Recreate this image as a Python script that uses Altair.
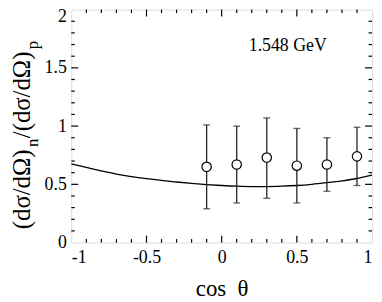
import altair as alt
import pandas as pd

# measured points
cos_theta = [-0.1, 0.1, 0.3, 0.5, 0.7, 0.9]
ratio = [0.65, 0.67, 0.73, 0.66, 0.67, 0.74]
err_low = [0.29, 0.34, 0.38, 0.34, 0.44, 0.49]
err_high = [1.01, 1.00, 1.07, 0.98, 0.90, 0.99]

# model curve
curve_x = [-1.0, -0.9, -0.8, -0.7, -0.6, -0.5, -0.4, -0.3, -0.2, -0.1, 0.0,
           0.1, 0.2, 0.3, 0.4, 0.5, 0.6, 0.7, 0.8, 0.9, 1.0]
curve_y = [0.675, 0.645, 0.615, 0.588, 0.566, 0.548, 0.533, 0.52, 0.508, 0.498, 0.49,
           0.484, 0.481, 0.481, 0.484, 0.49, 0.5, 0.514, 0.53, 0.55, 0.578]

x_ticks = [-1, -0.5, 0, 0.5, 1]
y_ticks = [0, 0.5, 1, 1.5, 2]
x_minor = [-0.9, -0.8, -0.7, -0.6, -0.4, -0.3, -0.2, -0.1, 0.1, 0.2, 0.3, 0.4,
           0.6, 0.7, 0.8, 0.9]
y_minor = [0.1, 0.2, 0.3, 0.4, 0.6, 0.7, 0.8, 0.9, 1.1, 1.2, 1.3, 1.4,
           1.6, 1.7, 1.8, 1.9]
x_major_inner = [-0.5, 0, 0.5]
y_major_inner = [0.5, 1, 1.5]

annotation = "1.548 GeV"
annot_x = [0.18]
annot_y = [1.645]
x_title = "cos\u00a0\u00a0θ"
y_title_parts = ["(dσ/dΩ)", "n", "/(dσ/dΩ)", "p"]

W, H = 304, 235.5
FONT = "Liberation Serif"
MAJ, MIN = 7, 3.5

pts = pd.DataFrame({"x": cos_theta, "y": ratio, "lo": err_low, "hi": err_high})
curve = pd.DataFrame({"x": curve_x, "y": curve_y})

label_expr = "datum.value < 0 ? '-' + format(-datum.value, '~g') : format(datum.value, '~g')"

xscale = alt.Scale(domain=[-1, 1], nice=False, zero=False)
yscale = alt.Scale(domain=[0, 2], nice=False, zero=False)

xaxis = alt.Axis(values=x_ticks, labelExpr=label_expr, ticks=False, domain=False, grid=False,
                 labelPadding=6, labelFont=FONT, labelFontSize=18, labelColor="black",
                 title=x_title, titleFont=FONT, titleFontSize=23, titleFontWeight="normal",
                 titleColor="black", titlePadding=12)
yaxis = alt.Axis(values=y_ticks, labelExpr=label_expr, ticks=False, domain=False, grid=False,
                 labelPadding=5, labelFont=FONT, labelFontSize=18, labelColor="black",
                 labelOffset={"condition": {"test": "datum.value == 2", "value": 7}, "value": 0},
                 title=None)

X = alt.X("x:Q", scale=xscale, axis=xaxis)
Y = alt.Y("y:Q", scale=yscale, axis=yaxis)

line = alt.Chart(curve).mark_line(color="black", strokeWidth=1.3, interpolate="monotone").encode(x=X, y=Y)

bars = alt.Chart(pts).mark_rule(color="#222222", strokeWidth=1.3).encode(
    x=X, y=alt.Y("lo:Q", scale=yscale), y2="hi:Q")
cap_lo = alt.Chart(pts).mark_tick(color="#222222", orient="horizontal", size=7, thickness=1.3).encode(
    x=X, y=alt.Y("lo:Q", scale=yscale))
cap_hi = alt.Chart(pts).mark_tick(color="#222222", orient="horizontal", size=7, thickness=1.3).encode(
    x=X, y=alt.Y("hi:Q", scale=yscale))
points = alt.Chart(pts).mark_point(shape="circle", filled=True, fill="white", stroke="black",
                                   strokeWidth=1.2, size=90, opacity=1).encode(x=X, y=Y)


def xticks(vals, length):
    df = pd.DataFrame({"x": vals})
    bot = alt.Chart(df).mark_rule(color="black", strokeWidth=1.2).encode(
        x=X, y=alt.value(H), y2=alt.value(H - length))
    top = alt.Chart(df).mark_rule(color="black", strokeWidth=1.2).encode(
        x=X, y=alt.value(0), y2=alt.value(length))
    return [bot, top]


def yticks(vals, length):
    df = pd.DataFrame({"y": vals})
    left = alt.Chart(df).mark_rule(color="black", strokeWidth=1.2).encode(
        y=Y, x=alt.value(0), x2=alt.value(length))
    right = alt.Chart(df).mark_rule(color="black", strokeWidth=1.2).encode(
        y=Y, x=alt.value(W), x2=alt.value(W - length))
    return [left, right]


tick_layers = xticks(x_major_inner, MAJ) + xticks(x_minor, MIN) + yticks(y_major_inner, MAJ) + yticks(y_minor, MIN)

annot = alt.Chart(pd.DataFrame({"x": annot_x, "y": annot_y, "t": [annotation]})).mark_text(
    font=FONT, fontSize=18, align="left", baseline="alphabetic", color="black").encode(
    x=X, y=Y, text="t:N")

# rotated y-axis title with subscripts
title_specs = [
    (y_title_parts[0], 25, -42, 222),
    (y_title_parts[1], 17, -34, 139),
    (y_title_parts[2], 25, -42, 130),
    (y_title_parts[3], 17, -34, 40),
]
title_layers = []
for txt, fs, px, py in title_specs:
    title_layers.append(
        alt.Chart(pd.DataFrame({"t": [txt]})).mark_text(
            font=FONT, fontSize=fs, angle=270, align="left", baseline="alphabetic", color="black"
        ).encode(x=alt.value(px), y=alt.value(py), text="t:N")
    )

chart = alt.layer(line, bars, cap_lo, cap_hi, points, annot, *tick_layers, *title_layers).properties(
    width=W, height=H,
    autosize=alt.AutoSizeParams(type="none"),
    padding={"left": 64, "top": 0, "right": 2, "bottom": 62},
).configure_view(stroke="black", strokeWidth=1.6).configure(background="white")

chart.save("out.html", embed_options={"renderer": "svg", "actions": False})
